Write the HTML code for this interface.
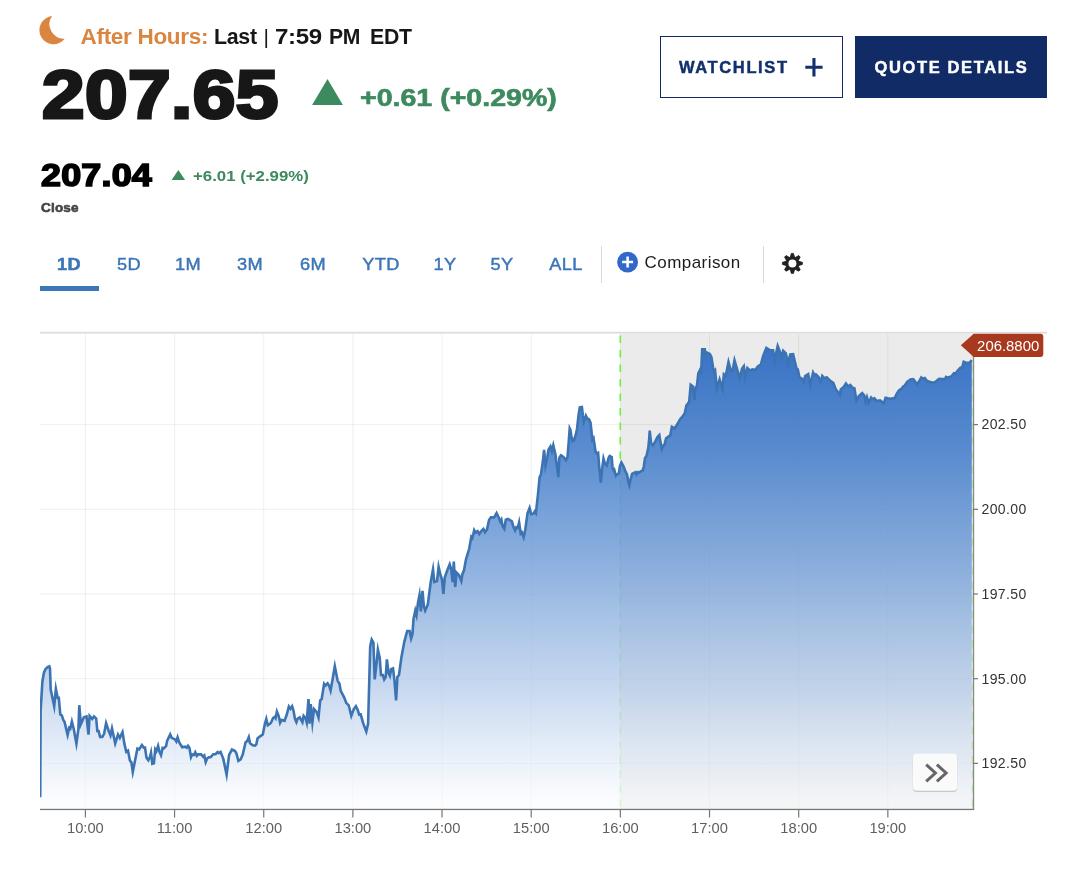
<!DOCTYPE html>
<html lang="en"><head><meta charset="utf-8"><title>Quote Chart</title>
<style>
html,body{margin:0;padding:0;background:#fff;}
body{width:1080px;height:869px;position:relative;overflow:hidden;font-family:"Liberation Sans",sans-serif;}
.abs{position:absolute;white-space:nowrap;line-height:1;}
.chart{position:absolute;left:0;top:0;}
.xl{font:14.7px "Liberation Sans",sans-serif;fill:#5f5f5f;}
.yl{font:14px "Liberation Sans",sans-serif;fill:#333;letter-spacing:0.35px;}
.fl{font:14.9px "Liberation Sans",sans-serif;fill:#fff;}
.ah{left:80.5px;top:26px;font-size:22.5px;font-weight:bold;color:#171717;letter-spacing:-0.3px;}
.ah b{color:#da8540;}
.ah b,.ah span,.ah i{position:absolute;top:0;transform-origin:left top;}
.ah i{font-style:normal;font-weight:normal;font-size:21px;top:-0.5px;}
.big{left:41.5px;top:59.5px;font-size:68px;font-weight:bold;color:#171717;-webkit-text-stroke:3.2px #171717;letter-spacing:0.4px;transform-origin:left top;transform:scaleX(1.125);}
.chg{left:360px;top:86.5px;font-size:23.5px;font-weight:bold;color:#3c8a5e;-webkit-text-stroke:0.6px #3c8a5e;transform-origin:left top;transform:scaleX(1.215);}
.close{left:40.5px;top:160px;font-size:30.5px;font-weight:bold;color:#000;-webkit-text-stroke:1.6px #000;letter-spacing:0.2px;transform-origin:left top;transform:scaleX(1.175);}
.chg2{left:192.5px;top:168.5px;font-size:14px;font-weight:bold;color:#3c8a5e;transform-origin:left top;transform:scaleX(1.2);}
.closel{left:41px;top:201px;font-size:13.5px;font-weight:bold;color:#444;-webkit-text-stroke:0.6px #444;letter-spacing:0.2px;}
.btn{box-sizing:border-box;height:62px;top:36px;font-size:16.5px;font-weight:bold;letter-spacing:1.63px;line-height:59.4px;-webkit-text-stroke:0.45px;}
.wl{left:660px;width:183px;border:1.5px solid #0f2c68;color:#12306b;padding-left:18px;line-height:60.6px;}
.qd{left:855px;width:192px;background:#102b66;color:#fff;padding-left:19.5px;line-height:62px;}
.tab{top:256px;font-size:17px;letter-spacing:0.3px;color:#3c76b6;-webkit-text-stroke:0.45px #3c76b6;text-align:center;transform:translateX(-50%) scaleX(1.07);}
.tab.on{font-weight:bold;-webkit-text-stroke:0.5px #3c76b6;}
.ul{left:40px;top:285.8px;width:59px;height:4.8px;background:#3c76b6;}
.sep{top:245.5px;width:1.2px;height:37px;background:#d9d9d9;}
.cmp{left:644.5px;top:253.5px;font-size:17px;color:#1c1c1c;letter-spacing:0.45px;}
</style></head><body>
<svg class="chart" width="1080" height="869" viewBox="0 0 1080 869">
<defs><linearGradient id="g" x1="0" y1="334" x2="0" y2="803" gradientUnits="userSpaceOnUse"><stop offset="0" stop-color="#3670c4" stop-opacity="1.000"/><stop offset="0.25" stop-color="#4880cb" stop-opacity="0.900"/><stop offset="0.5" stop-color="#739fd8" stop-opacity="0.800"/><stop offset="0.75" stop-color="#aec7e8" stop-opacity="0.700"/><stop offset="1" stop-color="#fafcff" stop-opacity="0.600"/></linearGradient><clipPath id="cl"><rect x="40" y="330" width="933" height="480"/></clipPath></defs>
<rect x="620.4" y="334" width="353" height="475" fill="#ebebeb"/>
<rect x="84.90" y="334" width="1" height="475" fill="#000" fill-opacity="0.062"/>
<rect x="174.06" y="334" width="1" height="475" fill="#000" fill-opacity="0.062"/>
<rect x="263.22" y="334" width="1" height="475" fill="#000" fill-opacity="0.062"/>
<rect x="352.38" y="334" width="1" height="475" fill="#000" fill-opacity="0.062"/>
<rect x="441.54" y="334" width="1" height="475" fill="#000" fill-opacity="0.062"/>
<rect x="530.70" y="334" width="1" height="475" fill="#000" fill-opacity="0.062"/>
<rect x="619.86" y="334" width="1" height="475" fill="#000" fill-opacity="0.062"/>
<rect x="709.02" y="334" width="1" height="475" fill="#000" fill-opacity="0.062"/>
<rect x="798.18" y="334" width="1" height="475" fill="#000" fill-opacity="0.062"/>
<rect x="887.34" y="334" width="1" height="475" fill="#000" fill-opacity="0.062"/>
<rect x="40" y="424.10" width="933" height="1" fill="#000" fill-opacity="0.062"/>
<rect x="40" y="508.80" width="933" height="1" fill="#000" fill-opacity="0.062"/>
<rect x="40" y="593.50" width="933" height="1" fill="#000" fill-opacity="0.062"/>
<rect x="40" y="678.20" width="933" height="1" fill="#000" fill-opacity="0.062"/>
<rect x="40" y="762.90" width="933" height="1" fill="#000" fill-opacity="0.062"/>
<rect x="40" y="331.8" width="1007" height="1.8" fill="#dcdcdc"/>
<line x1="620.3" y1="335.4" x2="620.3" y2="466" stroke="#6bf23c" stroke-width="1.6" stroke-dasharray="7.5 7"/>
<line x1="620.3" y1="466" x2="620.3" y2="809" stroke="#6bf23c" stroke-opacity="0.55" stroke-width="1.6" stroke-dasharray="7.5 7" stroke-dashoffset="0.1"/>
<line x1="972.3" y1="335.4" x2="972.3" y2="809" stroke="#6bf23c" stroke-opacity="0.45" stroke-width="1.2" stroke-dasharray="7.5 7"/>
<path d="M40.2 797.3 L40.6 710.8 L42.4 681.3 L44.0 672.5 L45.6 669.0 L47.6 667.0 L49.3 666.3 L50.0 668.5 L50.7 689.6 L54.2 706.2 L55.9 688.9 L57.7 697.9 L58.8 697.9 L60.3 714.5 L61.8 715.4 L63.3 720.0 L64.5 721.8 L67.6 734.9 L69.2 727.8 L70.3 728.7 L71.9 721.6 L73.8 729.2 L76.4 743.5 L78.4 729.2 L79.3 705.2 L80.8 724.2 L83.9 717.2 L86.5 716.4 L88.5 734.7 L89.6 716.0 L92.2 718.9 L94.0 716.4 L96.2 718.5 L97.3 731.0 L98.6 731.0 L100.1 736.9 L102.3 736.9 L104.1 733.8 L106.1 723.1 L108.7 731.0 L110.5 735.4 L112.0 728.5 L115.2 743.5 L118.0 734.6 L119.8 737.8 L122.5 732.1 L124.4 743.9 L126.3 751.9 L128.0 750.7 L129.9 760.5 L131.4 762.3 L132.8 772.0 L135.4 758.7 L137.4 748.6 L139.1 749.4 L141.9 745.0 L143.7 747.6 L145.0 747.6 L146.5 757.7 L148.3 760.2 L150.0 756.7 L151.0 752.7 L152.3 763.8 L153.9 763.3 L155.2 749.3 L156.4 751.2 L158.1 745.9 L159.4 751.7 L161.0 755.2 L162.6 747.9 L163.9 748.3 L166.1 746.1 L167.2 740.6 L170.2 734.4 L171.7 737.8 L175.0 739.4 L176.3 741.5 L177.6 737.4 L179.1 742.2 L182.2 747.2 L185.0 746.7 L186.7 747.7 L188.0 745.8 L189.4 747.8 L191.0 757.1 L192.2 754.4 L193.9 755.0 L195.2 752.3 L196.8 755.8 L198.0 754.4 L201.1 754.4 L203.1 756.6 L204.3 755.5 L205.7 762.1 L207.2 758.3 L208.9 757.2 L210.6 757.2 L213.3 754.2 L215.6 754.2 L217.6 752.0 L218.9 753.1 L220.6 751.9 L223.3 758.9 L226.6 774.6 L229.1 755.0 L232.0 749.5 L235.0 751.1 L236.4 753.3 L238.4 760.9 L240.6 759.4 L242.8 754.4 L245.6 742.2 L247.2 741.1 L248.8 737.2 L250.0 743.3 L252.8 745.3 L255.0 745.6 L256.3 744.4 L257.6 738.3 L261.1 735.6 L262.8 734.4 L264.8 724.3 L266.3 718.9 L267.8 725.3 L270.9 723.0 L273.1 718.0 L274.7 716.8 L275.6 718.2 L276.9 711.6 L278.7 716.1 L280.1 722.8 L281.6 719.9 L284.5 720.9 L286.7 714.8 L288.9 706.5 L290.5 708.7 L292.1 706.3 L293.6 711.0 L294.9 718.6 L296.4 722.2 L297.7 718.6 L299.7 717.4 L302.4 722.2 L303.6 715.9 L305.4 718.0 L306.7 722.6 L308.5 699.0 L309.5 723.7 L310.7 704.1 L312.4 722.4 L314.0 709.0 L316.4 711.6 L318.5 717.6 L320.2 700.3 L321.7 699.0 L324.1 683.8 L325.5 685.5 L327.6 683.4 L329.1 685.7 L330.6 690.5 L332.9 677.5 L334.8 666.2 L337.6 680.6 L339.5 683.8 L340.7 690.8 L344.0 697.1 L346.2 702.8 L348.7 705.3 L351.3 715.8 L353.8 709.1 L355.9 706.2 L357.6 709.7 L359.2 714.7 L360.7 714.3 L363.3 723.7 L366.3 731.5 L368.1 723.7 L369.6 668.0 L370.2 646.5 L371.7 639.7 L373.4 642.7 L374.7 679.4 L376.6 662.9 L377.9 649.7 L379.7 657.8 L381.0 674.9 L382.8 675.0 L384.2 679.4 L385.7 677.0 L386.9 659.4 L388.6 673.1 L389.9 675.9 L391.2 669.2 L393.0 668.4 L394.5 680.9 L396.1 700.5 L397.4 677.0 L399.0 675.0 L401.4 657.4 L404.3 641.8 L407.2 631.0 L409.6 631.0 L411.1 638.4 L412.5 633.9 L413.5 619.3 L415.3 610.6 L416.5 615.1 L418.0 602.6 L419.5 595.0 L420.9 611.4 L422.5 590.9 L423.9 606.5 L425.2 610.6 L427.8 604.6 L430.7 582.1 L433.0 569.4 L434.3 582.0 L437.0 581.1 L438.6 566.8 L440.5 575.2 L441.9 579.1 L443.4 593.8 L444.8 577.2 L447.3 570.3 L449.7 564.3 L451.3 569.4 L452.6 582.1 L453.8 561.5 L455.2 587.0 L456.6 572.7 L459.1 575.2 L461.3 580.9 L462.4 574.2 L464.0 570.3 L466.0 559.3 L469.2 548.8 L471.3 536.9 L472.4 538.2 L474.2 530.2 L475.7 532.6 L477.6 531.2 L479.2 534.0 L481.3 531.1 L483.4 528.9 L485.0 532.3 L487.0 529.5 L489.1 519.8 L491.0 517.4 L494.2 517.4 L496.6 513.0 L498.7 517.4 L500.3 521.5 L501.4 519.6 L502.6 526.3 L504.3 528.8 L505.8 519.8 L507.9 519.0 L511.9 521.4 L513.5 527.1 L515.1 530.4 L516.3 527.2 L517.8 527.8 L519.1 522.4 L520.7 533.5 L521.8 532.4 L523.6 537.2 L525.3 529.5 L527.5 513.4 L529.6 508.0 L531.2 514.1 L533.7 513.4 L534.8 511.5 L535.9 513.1 L538.0 494.1 L539.6 477.2 L540.9 474.8 L543.0 460.3 L544.1 449.8 L545.5 465.5 L547.3 457.0 L548.5 449.8 L550.5 446.5 L551.9 451.1 L553.3 445.3 L555.4 454.6 L557.0 466.7 L558.3 477.2 L559.4 457.8 L561.0 455.4 L563.4 457.0 L565.9 460.1 L567.5 457.0 L568.8 440.9 L569.7 428.5 L570.4 430.0 L571.2 435.3 L572.6 441.4 L574.0 440.5 L575.8 434.7 L577.1 428.4 L578.6 414.6 L579.8 407.4 L581.9 407.1 L582.9 415.7 L583.8 421.7 L585.0 418.6 L585.9 415.8 L587.3 418.6 L589.0 419.2 L590.5 422.6 L591.3 429.5 L592.3 439.7 L593.5 438.1 L594.7 445.6 L595.5 451.4 L597.0 453.6 L598.1 452.9 L599.3 467.5 L600.8 482.5 L602.2 468.6 L603.5 458.5 L605.1 464.0 L606.7 465.5 L608.6 457.7 L609.7 456.0 L611.7 457.1 L612.6 468.6 L613.5 470.3 L614.2 469.6 L615.9 475.7 L617.2 474.4 L618.9 473.3 L619.8 466.3 L621.4 462.5 L623.5 466.3 L625.2 470.9 L627.0 474.4 L628.5 482.5 L629.3 485.2 L630.4 480.2 L632.1 473.8 L634.4 472.7 L635.6 472.2 L636.5 474.4 L637.9 472.2 L639.0 472.7 L640.4 471.5 L642.7 470.4 L643.9 466.3 L645.0 458.3 L646.5 456.0 L648.3 447.9 L649.2 438.7 L649.7 430.7 L651.1 443.3 L652.9 445.4 L655.2 441.6 L657.5 437.0 L659.3 435.1 L660.3 441.0 L661.8 448.9 L662.9 446.2 L664.6 444.5 L666.1 438.2 L667.8 437.0 L670.3 435.3 L671.9 426.8 L674.7 428.4 L677.6 423.8 L680.1 419.2 L682.0 417.2 L684.8 413.3 L686.4 405.5 L689.2 401.7 L690.7 384.8 L693.1 386.7 L694.4 400.0 L695.3 388.9 L697.0 385.5 L698.3 373.3 L700.2 369.6 L701.2 371.4 L702.2 349.4 L704.8 349.4 L705.8 355.7 L707.3 352.8 L709.8 353.9 L711.4 357.2 L713.1 367.8 L714.2 371.9 L715.1 370.6 L716.8 388.5 L719.6 379.4 L722.4 388.6 L723.9 374.3 L725.8 375.8 L728.5 362.0 L730.9 371.0 L732.6 370.5 L734.5 360.3 L737.0 368.9 L739.6 378.4 L742.0 368.9 L743.8 366.3 L745.2 377.5 L747.4 368.1 L749.8 370.5 L752.6 369.4 L755.3 370.0 L757.6 366.7 L760.9 364.4 L763.1 356.1 L766.4 347.9 L769.8 350.0 L773.1 350.2 L774.5 360.8 L777.7 346.0 L780.3 352.8 L781.8 357.2 L783.2 350.8 L785.9 353.3 L787.8 363.6 L790.3 354.4 L793.1 354.2 L795.3 363.3 L796.4 368.3 L797.8 369.4 L799.4 377.2 L802.8 379.4 L803.8 381.4 L805.2 376.1 L808.2 374.1 L810.3 385.0 L813.1 372.7 L814.4 375.4 L815.9 374.4 L818.3 376.7 L820.9 381.4 L822.3 375.9 L824.4 378.3 L826.7 377.2 L830.6 381.1 L833.3 382.8 L835.6 388.9 L839.9 395.0 L840.8 389.4 L843.9 386.7 L845.9 383.5 L848.3 386.6 L850.3 385.0 L852.6 387.8 L854.4 388.3 L856.4 400.4 L858.9 396.1 L862.2 393.1 L864.4 395.5 L865.6 401.6 L867.0 397.2 L868.6 403.0 L871.1 397.5 L872.8 399.4 L874.4 398.3 L876.7 401.1 L880.0 400.5 L883.8 403.2 L885.6 397.8 L887.8 398.3 L890.6 398.7 L892.8 398.3 L894.6 398.4 L896.6 394.1 L898.9 390.4 L901.7 388.7 L903.1 386.5 L904.4 385.9 L907.2 382.0 L910.5 379.4 L913.2 379.2 L915.1 381.6 L916.9 384.6 L919.3 381.1 L921.3 377.5 L923.0 378.8 L924.8 378.1 L927.1 381.1 L930.4 382.0 L934.1 382.8 L936.4 381.1 L939.2 378.8 L942.4 379.1 L945.2 378.8 L946.1 376.9 L948.0 377.6 L951.2 376.5 L954.0 373.2 L955.4 373.7 L957.7 370.5 L960.5 367.7 L962.0 368.1 L963.7 361.8 L966.5 363.0 L969.7 362.6 L971.8 360.1 L971.8 809 L40.2 809 Z" fill="url(#g)"/>
<path clip-path="url(#cl)" d="M40.2 797.3 L40.6 710.8 L42.4 681.3 L44.0 672.5 L45.6 669.0 L47.6 667.0 L49.3 666.3 L50.0 668.5 L50.7 689.6 L54.2 706.2 L55.9 688.9 L57.7 697.9 L58.8 697.9 L60.3 714.5 L61.8 715.4 L63.3 720.0 L64.5 721.8 L67.6 734.9 L69.2 727.8 L70.3 728.7 L71.9 721.6 L73.8 729.2 L76.4 743.5 L78.4 729.2 L79.3 705.2 L80.8 724.2 L83.9 717.2 L86.5 716.4 L88.5 734.7 L89.6 716.0 L92.2 718.9 L94.0 716.4 L96.2 718.5 L97.3 731.0 L98.6 731.0 L100.1 736.9 L102.3 736.9 L104.1 733.8 L106.1 723.1 L108.7 731.0 L110.5 735.4 L112.0 728.5 L115.2 743.5 L118.0 734.6 L119.8 737.8 L122.5 732.1 L124.4 743.9 L126.3 751.9 L128.0 750.7 L129.9 760.5 L131.4 762.3 L132.8 772.0 L135.4 758.7 L137.4 748.6 L139.1 749.4 L141.9 745.0 L143.7 747.6 L145.0 747.6 L146.5 757.7 L148.3 760.2 L150.0 756.7 L151.0 752.7 L152.3 763.8 L153.9 763.3 L155.2 749.3 L156.4 751.2 L158.1 745.9 L159.4 751.7 L161.0 755.2 L162.6 747.9 L163.9 748.3 L166.1 746.1 L167.2 740.6 L170.2 734.4 L171.7 737.8 L175.0 739.4 L176.3 741.5 L177.6 737.4 L179.1 742.2 L182.2 747.2 L185.0 746.7 L186.7 747.7 L188.0 745.8 L189.4 747.8 L191.0 757.1 L192.2 754.4 L193.9 755.0 L195.2 752.3 L196.8 755.8 L198.0 754.4 L201.1 754.4 L203.1 756.6 L204.3 755.5 L205.7 762.1 L207.2 758.3 L208.9 757.2 L210.6 757.2 L213.3 754.2 L215.6 754.2 L217.6 752.0 L218.9 753.1 L220.6 751.9 L223.3 758.9 L226.6 774.6 L229.1 755.0 L232.0 749.5 L235.0 751.1 L236.4 753.3 L238.4 760.9 L240.6 759.4 L242.8 754.4 L245.6 742.2 L247.2 741.1 L248.8 737.2 L250.0 743.3 L252.8 745.3 L255.0 745.6 L256.3 744.4 L257.6 738.3 L261.1 735.6 L262.8 734.4 L264.8 724.3 L266.3 718.9 L267.8 725.3 L270.9 723.0 L273.1 718.0 L274.7 716.8 L275.6 718.2 L276.9 711.6 L278.7 716.1 L280.1 722.8 L281.6 719.9 L284.5 720.9 L286.7 714.8 L288.9 706.5 L290.5 708.7 L292.1 706.3 L293.6 711.0 L294.9 718.6 L296.4 722.2 L297.7 718.6 L299.7 717.4 L302.4 722.2 L303.6 715.9 L305.4 718.0 L306.7 722.6 L308.5 699.0 L309.5 723.7 L310.7 704.1 L312.4 722.4 L314.0 709.0 L316.4 711.6 L318.5 717.6 L320.2 700.3 L321.7 699.0 L324.1 683.8 L325.5 685.5 L327.6 683.4 L329.1 685.7 L330.6 690.5 L332.9 677.5 L334.8 666.2 L337.6 680.6 L339.5 683.8 L340.7 690.8 L344.0 697.1 L346.2 702.8 L348.7 705.3 L351.3 715.8 L353.8 709.1 L355.9 706.2 L357.6 709.7 L359.2 714.7 L360.7 714.3 L363.3 723.7 L366.3 731.5 L368.1 723.7 L369.6 668.0 L370.2 646.5 L371.7 639.7 L373.4 642.7 L374.7 679.4 L376.6 662.9 L377.9 649.7 L379.7 657.8 L381.0 674.9 L382.8 675.0 L384.2 679.4 L385.7 677.0 L386.9 659.4 L388.6 673.1 L389.9 675.9 L391.2 669.2 L393.0 668.4 L394.5 680.9 L396.1 700.5 L397.4 677.0 L399.0 675.0 L401.4 657.4 L404.3 641.8 L407.2 631.0 L409.6 631.0 L411.1 638.4 L412.5 633.9 L413.5 619.3 L415.3 610.6 L416.5 615.1 L418.0 602.6 L419.5 595.0 L420.9 611.4 L422.5 590.9 L423.9 606.5 L425.2 610.6 L427.8 604.6 L430.7 582.1 L433.0 569.4 L434.3 582.0 L437.0 581.1 L438.6 566.8 L440.5 575.2 L441.9 579.1 L443.4 593.8 L444.8 577.2 L447.3 570.3 L449.7 564.3 L451.3 569.4 L452.6 582.1 L453.8 561.5 L455.2 587.0 L456.6 572.7 L459.1 575.2 L461.3 580.9 L462.4 574.2 L464.0 570.3 L466.0 559.3 L469.2 548.8 L471.3 536.9 L472.4 538.2 L474.2 530.2 L475.7 532.6 L477.6 531.2 L479.2 534.0 L481.3 531.1 L483.4 528.9 L485.0 532.3 L487.0 529.5 L489.1 519.8 L491.0 517.4 L494.2 517.4 L496.6 513.0 L498.7 517.4 L500.3 521.5 L501.4 519.6 L502.6 526.3 L504.3 528.8 L505.8 519.8 L507.9 519.0 L511.9 521.4 L513.5 527.1 L515.1 530.4 L516.3 527.2 L517.8 527.8 L519.1 522.4 L520.7 533.5 L521.8 532.4 L523.6 537.2 L525.3 529.5 L527.5 513.4 L529.6 508.0 L531.2 514.1 L533.7 513.4 L534.8 511.5 L535.9 513.1 L538.0 494.1 L539.6 477.2 L540.9 474.8 L543.0 460.3 L544.1 449.8 L545.5 465.5 L547.3 457.0 L548.5 449.8 L550.5 446.5 L551.9 451.1 L553.3 445.3 L555.4 454.6 L557.0 466.7 L558.3 477.2 L559.4 457.8 L561.0 455.4 L563.4 457.0 L565.9 460.1 L567.5 457.0 L568.8 440.9 L569.7 428.5 L570.4 430.0 L571.2 435.3 L572.6 441.4 L574.0 440.5 L575.8 434.7 L577.1 428.4 L578.6 414.6 L579.8 407.4 L581.9 407.1 L582.9 415.7 L583.8 421.7 L585.0 418.6 L585.9 415.8 L587.3 418.6 L589.0 419.2 L590.5 422.6 L591.3 429.5 L592.3 439.7 L593.5 438.1 L594.7 445.6 L595.5 451.4 L597.0 453.6 L598.1 452.9 L599.3 467.5 L600.8 482.5 L602.2 468.6 L603.5 458.5 L605.1 464.0 L606.7 465.5 L608.6 457.7 L609.7 456.0 L611.7 457.1 L612.6 468.6 L613.5 470.3 L614.2 469.6 L615.9 475.7 L617.2 474.4 L618.9 473.3 L619.8 466.3 L621.4 462.5 L623.5 466.3 L625.2 470.9 L627.0 474.4 L628.5 482.5 L629.3 485.2 L630.4 480.2 L632.1 473.8 L634.4 472.7 L635.6 472.2 L636.5 474.4 L637.9 472.2 L639.0 472.7 L640.4 471.5 L642.7 470.4 L643.9 466.3 L645.0 458.3 L646.5 456.0 L648.3 447.9 L649.2 438.7 L649.7 430.7 L651.1 443.3 L652.9 445.4 L655.2 441.6 L657.5 437.0 L659.3 435.1 L660.3 441.0 L661.8 448.9 L662.9 446.2 L664.6 444.5 L666.1 438.2 L667.8 437.0 L670.3 435.3 L671.9 426.8 L674.7 428.4 L677.6 423.8 L680.1 419.2 L682.0 417.2 L684.8 413.3 L686.4 405.5 L689.2 401.7 L690.7 384.8 L693.1 386.7 L694.4 400.0 L695.3 388.9 L697.0 385.5 L698.3 373.3 L700.2 369.6 L701.2 371.4 L702.2 349.4 L704.8 349.4 L705.8 355.7 L707.3 352.8 L709.8 353.9 L711.4 357.2 L713.1 367.8 L714.2 371.9 L715.1 370.6 L716.8 388.5 L719.6 379.4 L722.4 388.6 L723.9 374.3 L725.8 375.8 L728.5 362.0 L730.9 371.0 L732.6 370.5 L734.5 360.3 L737.0 368.9 L739.6 378.4 L742.0 368.9 L743.8 366.3 L745.2 377.5 L747.4 368.1 L749.8 370.5 L752.6 369.4 L755.3 370.0 L757.6 366.7 L760.9 364.4 L763.1 356.1 L766.4 347.9 L769.8 350.0 L773.1 350.2 L774.5 360.8 L777.7 346.0 L780.3 352.8 L781.8 357.2 L783.2 350.8 L785.9 353.3 L787.8 363.6 L790.3 354.4 L793.1 354.2 L795.3 363.3 L796.4 368.3 L797.8 369.4 L799.4 377.2 L802.8 379.4 L803.8 381.4 L805.2 376.1 L808.2 374.1 L810.3 385.0 L813.1 372.7 L814.4 375.4 L815.9 374.4 L818.3 376.7 L820.9 381.4 L822.3 375.9 L824.4 378.3 L826.7 377.2 L830.6 381.1 L833.3 382.8 L835.6 388.9 L839.9 395.0 L840.8 389.4 L843.9 386.7 L845.9 383.5 L848.3 386.6 L850.3 385.0 L852.6 387.8 L854.4 388.3 L856.4 400.4 L858.9 396.1 L862.2 393.1 L864.4 395.5 L865.6 401.6 L867.0 397.2 L868.6 403.0 L871.1 397.5 L872.8 399.4 L874.4 398.3 L876.7 401.1 L880.0 400.5 L883.8 403.2 L885.6 397.8 L887.8 398.3 L890.6 398.7 L892.8 398.3 L894.6 398.4 L896.6 394.1 L898.9 390.4 L901.7 388.7 L903.1 386.5 L904.4 385.9 L907.2 382.0 L910.5 379.4 L913.2 379.2 L915.1 381.6 L916.9 384.6 L919.3 381.1 L921.3 377.5 L923.0 378.8 L924.8 378.1 L927.1 381.1 L930.4 382.0 L934.1 382.8 L936.4 381.1 L939.2 378.8 L942.4 379.1 L945.2 378.8 L946.1 376.9 L948.0 377.6 L951.2 376.5 L954.0 373.2 L955.4 373.7 L957.7 370.5 L960.5 367.7 L962.0 368.1 L963.7 361.8 L966.5 363.0 L969.7 362.6 L971.8 360.1" fill="none" stroke="#3b73b3" stroke-width="2.6" stroke-linejoin="miter" stroke-miterlimit="10" stroke-linecap="butt"/>
<rect x="40" y="808.8" width="934.2" height="1.3" fill="#777"/>
<rect x="972.9" y="334" width="1.3" height="476" fill="#8a8a8a"/>
<rect x="84.80" y="809" width="1.2" height="8.5" fill="#777"/>
<text x="85.4" y="832.6" text-anchor="middle" class="xl">10:00</text>
<rect x="173.96" y="809" width="1.2" height="8.5" fill="#777"/>
<text x="174.6" y="832.6" text-anchor="middle" class="xl">11:00</text>
<rect x="263.12" y="809" width="1.2" height="8.5" fill="#777"/>
<text x="263.7" y="832.6" text-anchor="middle" class="xl">12:00</text>
<rect x="352.28" y="809" width="1.2" height="8.5" fill="#777"/>
<text x="352.9" y="832.6" text-anchor="middle" class="xl">13:00</text>
<rect x="441.44" y="809" width="1.2" height="8.5" fill="#777"/>
<text x="442.0" y="832.6" text-anchor="middle" class="xl">14:00</text>
<rect x="530.60" y="809" width="1.2" height="8.5" fill="#777"/>
<text x="531.2" y="832.6" text-anchor="middle" class="xl">15:00</text>
<rect x="619.76" y="809" width="1.2" height="8.5" fill="#777"/>
<text x="620.4" y="832.6" text-anchor="middle" class="xl">16:00</text>
<rect x="708.92" y="809" width="1.2" height="8.5" fill="#777"/>
<text x="709.5" y="832.6" text-anchor="middle" class="xl">17:00</text>
<rect x="798.08" y="809" width="1.2" height="8.5" fill="#777"/>
<text x="798.7" y="832.6" text-anchor="middle" class="xl">18:00</text>
<rect x="887.24" y="809" width="1.2" height="8.5" fill="#777"/>
<text x="887.8" y="832.6" text-anchor="middle" class="xl">19:00</text>
<rect x="973" y="424.00" width="5" height="1.2" fill="#777"/>
<text x="981.6" y="429.4" class="yl">202.50</text>
<rect x="973" y="508.70" width="5" height="1.2" fill="#777"/>
<text x="981.6" y="514.1" class="yl">200.00</text>
<rect x="973" y="593.40" width="5" height="1.2" fill="#777"/>
<text x="981.6" y="598.8" class="yl">197.50</text>
<rect x="973" y="678.10" width="5" height="1.2" fill="#777"/>
<text x="981.6" y="683.5" class="yl">195.00</text>
<rect x="973" y="762.80" width="5" height="1.2" fill="#777"/>
<text x="981.6" y="768.2" class="yl">192.50</text>
<path d="M960.8 345.3 L973.8 333.8 L1040.3 333.8 Q1043.3 333.8 1043.3 336.8 L1043.3 353.9 Q1043.3 356.9 1040.3 356.9 L973.8 356.9 Z" fill="#a8391f"/>
<text x="977.1" y="351.3" class="fl">206.8800</text>
<rect x="912.6" y="754.6" width="44.8" height="37.4" rx="4" fill="#000" fill-opacity="0.07"/>
<rect x="913" y="754.8" width="44" height="37" rx="3.5" fill="#000" fill-opacity="0.14"/>
<rect x="913" y="753.8" width="44" height="37" rx="3.5" fill="#fafafa"/>
<path d="M926.2 764.6 L935.4 773 L926.2 781.4 M936.9 764.6 L946.1 773 L936.9 781.4" fill="none" stroke="#666" stroke-width="3"/>
<path d="M52.1 16.1 A14.1 14.1 0 1 0 64.7 38.7 A14.4 14.4 0 0 1 52.1 16.1 Z" fill="#da8540"/>
<path d="M327.5 78.9 L342.9 105 L312.1 105 Z" fill="#3c8a5e"/>
<path d="M178.35 169.9 L185.1 180.1 L171.6 180.1 Z" fill="#3c8a5e"/>
<path d="M813.95 58 V76.6 M805.3 67.3 H822.6" stroke="#12306b" stroke-width="3.1" fill="none"/>
<circle cx="627.6" cy="262.1" r="10.45" fill="#3168ca"/><path d="M627.6 256.6 V267.6 M622.1 262.1 H633.1" stroke="#fff" stroke-width="2.5" fill="none"/>
<g transform="translate(792.4 263.4)" fill="#222"><circle r="7.0"/><path d="M-2.1 -6.4 L-1.05 -10 L1.05 -10 L2.1 -6.4 Z" stroke="#222" stroke-width="0.8" stroke-linejoin="round" transform="rotate(0)"/><path d="M-2.1 -6.4 L-1.05 -10 L1.05 -10 L2.1 -6.4 Z" stroke="#222" stroke-width="0.8" stroke-linejoin="round" transform="rotate(45)"/><path d="M-2.1 -6.4 L-1.05 -10 L1.05 -10 L2.1 -6.4 Z" stroke="#222" stroke-width="0.8" stroke-linejoin="round" transform="rotate(90)"/><path d="M-2.1 -6.4 L-1.05 -10 L1.05 -10 L2.1 -6.4 Z" stroke="#222" stroke-width="0.8" stroke-linejoin="round" transform="rotate(135)"/><path d="M-2.1 -6.4 L-1.05 -10 L1.05 -10 L2.1 -6.4 Z" stroke="#222" stroke-width="0.8" stroke-linejoin="round" transform="rotate(180)"/><path d="M-2.1 -6.4 L-1.05 -10 L1.05 -10 L2.1 -6.4 Z" stroke="#222" stroke-width="0.8" stroke-linejoin="round" transform="rotate(225)"/><path d="M-2.1 -6.4 L-1.05 -10 L1.05 -10 L2.1 -6.4 Z" stroke="#222" stroke-width="0.8" stroke-linejoin="round" transform="rotate(270)"/><path d="M-2.1 -6.4 L-1.05 -10 L1.05 -10 L2.1 -6.4 Z" stroke="#222" stroke-width="0.8" stroke-linejoin="round" transform="rotate(315)"/><circle r="4" fill="#fff"/></g>
</svg>

<div class="abs ah"><b style="left:0">After Hours:</b> <span style="left:133.8px;transform:scaleX(0.95)">Last</span> <i style="left:183px">|</i> <span style="left:194.5px;transform:scaleX(1.07)">7:59</span> <span style="left:248.5px;transform:scaleX(0.94)">PM</span> <span style="left:289px;transform:scaleX(0.945)">EDT</span></div>
<div class="abs big">207.65</div>

<div class="abs chg">+0.61 (+0.29%)</div>
<div class="abs close">207.04</div>

<div class="abs chg2">+6.01 (+2.99%)</div>
<div class="abs closel">Close</div>
<div class="abs btn wl">WATCHLIST</div>
<div class="abs btn qd">QUOTE DETAILS</div>
<div class="abs tab on" style="left:69.2px">1D</div>
<div class="abs tab" style="left:128.6px">5D</div>
<div class="abs tab" style="left:188.3px">1M</div>
<div class="abs tab" style="left:249.5px">3M</div>
<div class="abs tab" style="left:313px">6M</div>
<div class="abs tab" style="left:381px">YTD</div>
<div class="abs tab" style="left:444.6px">1Y</div>
<div class="abs tab" style="left:502.2px">5Y</div>
<div class="abs tab" style="left:566px">ALL</div>
<div class="abs ul"></div>
<div class="abs sep" style="left:601.2px"></div>

<div class="abs cmp">Comparison</div>
<div class="abs sep" style="left:762.8px"></div>

</body></html>
